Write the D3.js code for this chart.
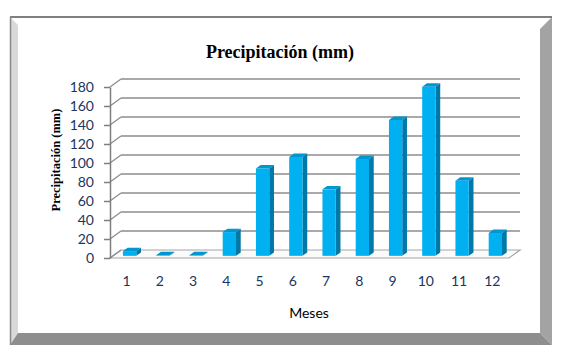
<!DOCTYPE html>
<html><head><meta charset="utf-8">
<script src="https://cdn.jsdelivr.net/npm/d3@7"></script>
<style>html,body{margin:0;padding:0;background:#fff;}svg{display:block;}</style>
</head><body>
<svg id="chart" width="564" height="360"></svg>
<script>
const categories = ["1","2","3","4","5","6","7","8","9","10","11","12"];
const values = [5, 0.6, 0.6, 25, 92, 104, 70, 102, 143, 178, 79, 24];
const yTicks = [0, 20, 40, 60, 80, 100, 120, 140, 160, 180];
const title = "Precipitación (mm)";
const yTitle = "Precipitación (mm)";
const xTitle = "Meses";

const svg = d3.select("#chart");
const W = 564, H = 360;
svg.append("rect").attr("width", W).attr("height", H).attr("fill", "#fff");

// frame
const fl = 10, fr = 552, ft = 17, fb = 345, bw = 8, rw = 12;
svg.append("polygon").attr("points", `${fl},${ft} ${fl+bw},${ft+bw} ${fl+bw},${fb-rw} ${fl},${fb}`).attr("fill", "#d9d9d9");
svg.append("polygon").attr("points", `${fr},${ft} ${fr-rw},${ft+rw} ${fr-rw},${fb-rw} ${fr},${fb}`).attr("fill", "#a3a3a3");
svg.append("polygon").attr("points", `${fl},${fb} ${fl+bw},${fb-rw} ${fr-rw},${fb-rw} ${fr},${fb}`).attr("fill", "#8e8e8e");
svg.append("line").attr("x1", fl).attr("x2", fr).attr("y1", ft).attr("y2", ft).attr("stroke", "#7f7f7f").attr("stroke-width", 2);
svg.append("line").attr("x1", fl+0.5).attr("x2", fl+0.5).attr("y1", ft).attr("y2", fb).attr("stroke", "#8a8a8a").attr("stroke-width", 1.5);

// scales
const x0 = 110, x1 = 509, DX = 11, DY = -8;
const y = d3.scaleLinear().domain([0, 180]).range([258, 87]);
const x = d3.scaleBand().domain(categories).range([x0, x1]).paddingInner(0.6).paddingOuter(0.3);
const f0 = 0.27, f1 = 0.70;

const grid = svg.append("g");
// floor
grid.append("polygon")
  .attr("points", `${x0},${y(0)} ${x1},${y(0)} ${x1+DX},${y(0)+DY} ${x0+DX},${y(0)+DY}`)
  .attr("fill", "#fbfbfb").attr("stroke", "#a6a6a6").attr("stroke-width", 1.2);
// back wall gridlines
yTicks.filter(v => v > 0).forEach(v => {
  grid.append("line").attr("x1", x0+DX).attr("x2", x1+DX)
    .attr("y1", y(v)+DY).attr("y2", y(v)+DY)
    .attr("stroke", "#8c8c8c").attr("stroke-width", 1.5);
});
// side wall gridlines
yTicks.forEach(v => {
  grid.append("line").attr("x1", x0).attr("x2", x0+DX)
    .attr("y1", y(v)).attr("y2", y(v)+DY)
    .attr("stroke", "#8c8c8c").attr("stroke-width", 1.3);
});

// y axis
const yAxis = svg.append("g").attr("transform", `translate(${x0},0)`)
  .call(d3.axisLeft(y).tickValues(yTicks).tickSize(6).tickSizeOuter(0).tickPadding(10));
yAxis.select(".domain").attr("stroke", "#7f7f7f").attr("stroke-width", 1.5);
yAxis.selectAll(".tick line").attr("stroke", "#7f7f7f").attr("stroke-width", 1.5);
yAxis.selectAll(".tick text").attr("fill", "#1b3560").attr("font-family", "Lato, 'Open Sans', sans-serif").attr("font-size", 14);

// bars
const bars = svg.append("g");
categories.forEach((c, i) => {
  const v = values[i];
  const bx = x(c) + f0*DX, by0 = y(0) + f0*DY;
  const bwid = x.bandwidth();
  const h = y(0) - y(v);
  const ty = by0 - h;
  const ddx = (f1-f0)*DX, ddy = (f1-f0)*DY;
  // side
  bars.append("polygon").attr("points",
    `${bx+bwid},${ty} ${bx+bwid+ddx},${ty+ddy} ${bx+bwid+ddx},${by0+ddy} ${bx+bwid},${by0}`)
    .attr("fill", "#0079a8");
  // top
  bars.append("polygon").attr("points",
    `${bx},${ty} ${bx+ddx},${ty+ddy} ${bx+bwid+ddx},${ty+ddy} ${bx+bwid},${ty}`)
    .attr("fill", "#0096d0");
  // front
  bars.append("rect").attr("x", bx).attr("y", ty).attr("width", bwid).attr("height", Math.max(h, 0.01))
    .attr("fill", "#00b0f0");
});

// x axis labels
const xAxis = svg.append("g").attr("transform", `translate(0,${y(0)})`)
  .call(d3.axisBottom(x).tickSize(0).tickPadding(18));
xAxis.select(".domain").remove();
xAxis.selectAll(".tick text").attr("fill", "#1b3560").attr("font-family", "Lato, 'Open Sans', sans-serif").attr("font-size", 14);

// titles
svg.append("text").attr("x", 280).attr("y", 58).attr("text-anchor", "middle")
  .attr("font-family", "'Liberation Serif', 'DejaVu Serif', serif").attr("font-weight", "bold").attr("font-size", 18)
  .attr("fill", "#000").text(title);
svg.append("text").attr("transform", "translate(60,160) rotate(-90)").attr("text-anchor", "middle")
  .attr("font-family", "'Liberation Serif', 'DejaVu Serif', serif").attr("font-weight", "bold").attr("font-size", 12.5)
  .attr("fill", "#000").text(yTitle);
svg.append("text").attr("x", 309).attr("y", 318).attr("text-anchor", "middle")
  .attr("font-family", "Lato, 'Open Sans', sans-serif").attr("font-size", 14)
  .attr("fill", "#000").text(xTitle);
</script>
</body></html>
